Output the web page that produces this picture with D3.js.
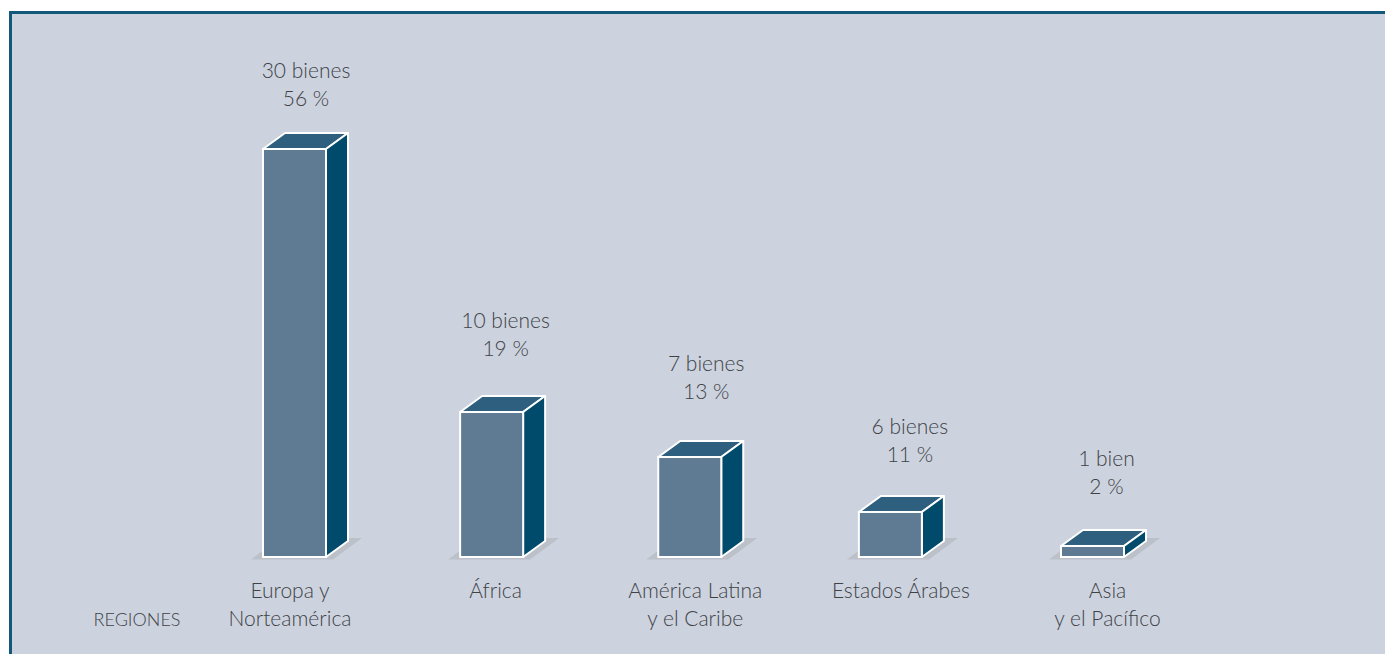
<!DOCTYPE html>
<html><head><meta charset="utf-8">
<script src="https://cdn.jsdelivr.net/npm/d3@7"></script>
<style>html,body{margin:0;padding:0;background:#fff;overflow:hidden}svg{display:block}
text{font-family:Lato,sans-serif;font-weight:300;fill:#3f4247;text-anchor:middle}</style>
</head><body><svg id="c" width="1385" height="654"></svg>
<script>
const categories=[["Europa y","Norteamérica"],["África"],["América Latina","y el Caribe"],["Estados Árabes"],["Asia","y el Pacífico"]];
const bienes=[30,10,7,6,1];
const percents=[56,19,13,11,2];
// Drawn bar heights in the source are not proportional to the counts: levels, in goods.
const barLevels=[30,10.66,7.35,3.31,0.81];
const axisTitle="REGIONES";

const W=1385,H=654,baseY=557,topY=149,barW=63,dx=22,dy=16;
const labelGaps=[43,56,58,50,52];
const barNudge=[0.5,-2,-3.5,-2.5,0], valNudge=[12,12,13,17,14], catNudge=[-4,2,2,8,15];
const svg=d3.select("#c");
svg.append("rect").attr("x",10.5).attr("y",12.5).attr("width",W).attr("height",H).attr("fill","#ccd3de").attr("stroke","#12587a").attr("stroke-width",3);
const keys=categories.map(c=>c.join(" "));
const x=d3.scalePoint().domain(keys).range([294,1092.5]);
const y=d3.scaleLinear().domain([0,30]).range([baseY,topY]);
const poly=p=>p.map(q=>q.join(",")).join(" ");
const left=(k,i)=>x(k)+barNudge[i]-barW/2;
const g=svg.selectAll("g.bar").data(keys).join("g").attr("class","bar");
g.append("polygon").attr("fill","#bcc0c8").attr("points",(k,i)=>{const l=left(k,i),r=l+barW;
  return poly([[l-12,559.5],[r+7,559.5],[r+36,538],[l+17,538]]);});
g.append("polygon").attr("fill","#2f5f7e").attr("stroke","#fff").attr("stroke-width",2).attr("stroke-linejoin","round")
 .attr("points",(k,i)=>{const l=left(k,i),r=l+barW,t=y(barLevels[i]);return poly([[l,t],[r,t],[r+dx,t-dy],[l+dx,t-dy]]);});
g.append("polygon").attr("fill","#004a6b").attr("stroke","#fff").attr("stroke-width",2).attr("stroke-linejoin","round")
 .attr("points",(k,i)=>{const l=left(k,i),r=l+barW,t=y(barLevels[i]);return poly([[r,t],[r+dx,t-dy],[r+dx,baseY-dy],[r,baseY]]);});
g.append("rect").attr("fill","#5f7a93").attr("stroke","#fff").attr("stroke-width",2)
 .attr("x",(k,i)=>left(k,i)).attr("width",barW).attr("y",(k,i)=>y(barLevels[i])).attr("height",(k,i)=>baseY-y(barLevels[i]));
const fs=21;
g.append("text").attr("font-size",fs).attr("x",(k,i)=>x(k)+valNudge[i]).attr("y",(k,i)=>y(barLevels[i])-labelGaps[i]-28)
 .text((k,i)=>bienes[i]+(bienes[i]===1?" bien":" bienes"));
g.append("text").attr("font-size",fs).attr("x",(k,i)=>x(k)+valNudge[i]).attr("y",(k,i)=>y(barLevels[i])-labelGaps[i])
 .text((k,i)=>percents[i]+" %");
g.each(function(k,i){categories[i].forEach((s,j)=>d3.select(this).append("text").attr("font-size",fs)
 .attr("x",x(k)+catNudge[i]).attr("y",598+j*28).text(s));});
svg.append("text").attr("font-size",18).attr("x",137).attr("y",626).text(axisTitle);
</script></body></html>
